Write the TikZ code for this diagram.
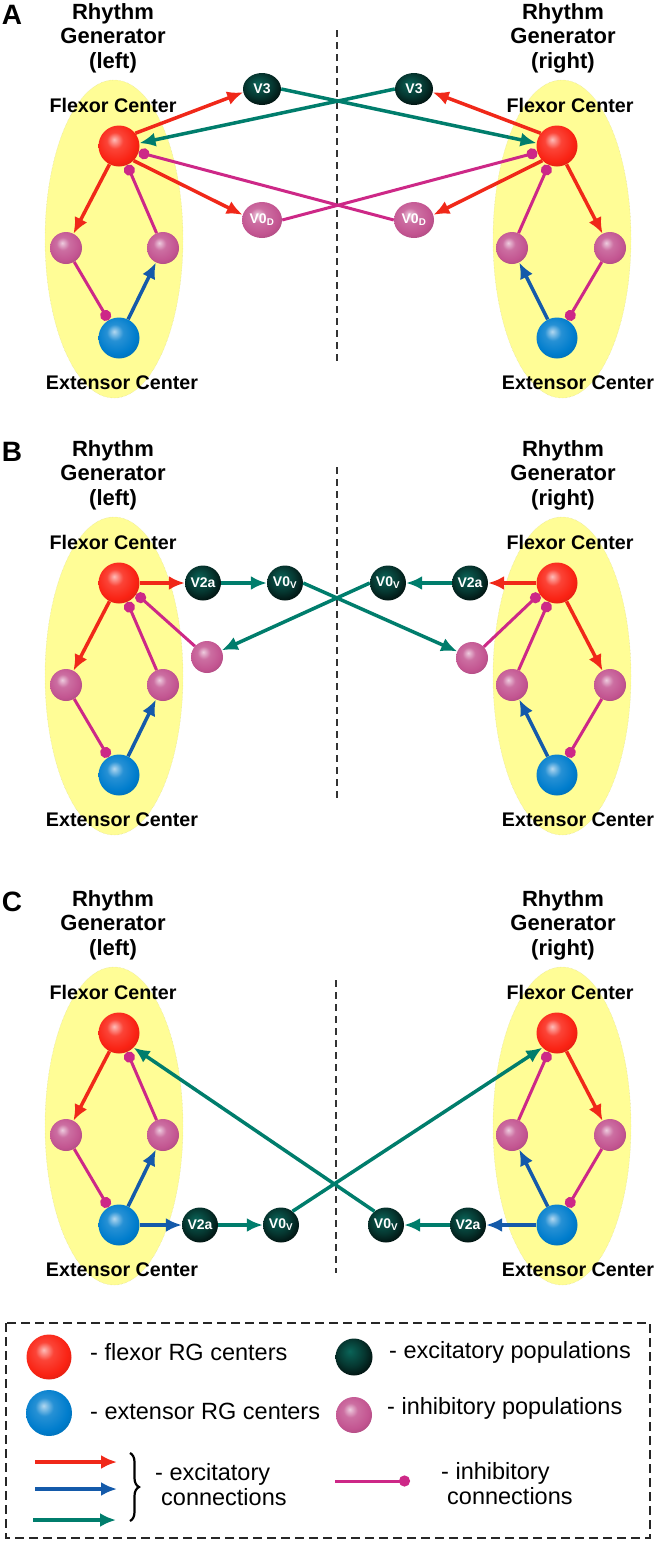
\documentclass[tikz,border=0pt]{standalone}
\usepackage{fontspec}
\setmainfont{Liberation Sans}
\usetikzlibrary{arrows.meta,shapes.geometric,decorations.pathreplacing}

\definecolor{rgyellow}{RGB}{255,253,150}
\definecolor{flexred}{RGB}{250,35,20}
\definecolor{extblue}{RGB}{0,125,205}
\definecolor{inhpink}{RGB}{195,85,145}
\definecolor{excgreen}{RGB}{10,100,88}
\definecolor{conred}{RGB}{240,40,25}
\definecolor{congreen}{RGB}{0,125,108}
\definecolor{conblue}{RGB}{20,90,170}
\definecolor{conpink}{RGB}{205,40,135}
\colorlet{spherecol}{red}
\pgfdeclareradialshading[spherecol]{sphere}{\pgfpoint{-6bp}{8bp}}{%
  color(0bp)=(spherecol!30!white); color(10bp)=(spherecol!85!white);
  color(24bp)=(spherecol); color(38bp)=(spherecol!80!black);
  color(60bp)=(spherecol!50!black)}
\pgfdeclareradialshading[spherecol]{darksphere}{\pgfpoint{-6bp}{8bp}}{%
  color(0bp)=(spherecol); color(18bp)=(spherecol!55!black);
  color(36bp)=(black); color(60bp)=(black)}

\begin{document}
\begin{tikzpicture}[
  x=1pt, y=-1pt,
  every node/.style={font=\fontsize{19.7}{22}\selectfont\bfseries, text=black},
  head/.style={align=center, font=\fontsize{22}{24.5}\selectfont\bfseries},
  legtxt/.style={anchor=west, align=left, inner sep=0pt, font=\fontsize{23.5}{25}\selectfont},
  ptext/.style={text=white, font=\fontsize{14}{14}\selectfont\bfseries},
  rg/.style={ellipse, fill=rgyellow, draw=rgyellow!70!gray, densely dotted,
    minimum width=138pt, minimum height=318pt, inner sep=0pt},
  ball/.style={circle, inner sep=0pt, shade, shading=sphere,
    /utils/exec={\colorlet{spherecol}{#1}}},
  flex/.style={ball=flexred, minimum size=41pt},
  extn/.style={ball=extblue, minimum size=41pt},
  inh/.style={ball=inhpink, minimum size=32pt},
  exc/.style={ellipse, inner sep=0pt, shade, shading=darksphere,
    /utils/exec={\colorlet{spherecol}{excgreen}},
    minimum width=36pt, minimum height=35pt, ptext},
  exr/.style={draw=conred, line width=3.5pt, -{Latex[length=16pt,width=14pt]}},
  exg/.style={draw=congreen, line width=3.5pt, -{Latex[length=16pt,width=14pt]}},
  exb/.style={draw=conblue, line width=3.5pt, -{Latex[length=16pt,width=14pt]}},
  inl/.style={draw=conpink, line width=3pt, -{Circle[length=11pt]}},
  curly/.style={draw=black, line width=2.2pt, decorate,
    decoration={brace, amplitude=9pt, aspect=0.5}},
  midline/.style={draw=black!80, line width=1.3pt, dash pattern=on 7pt off 5pt},
  legbox/.style={draw=black!85, line width=2.5pt, dash pattern=on 9pt off 5pt}
  ]
\useasboundingbox (0,0) rectangle (656,1542);

% the two rhythm generators of each panel
\foreach \p/\dy in {A/0,B/437,C/887}{
  \node[font=\fontsize{28}{28}\selectfont\bfseries] (lab\p) at (12,15+\dy) {\p};
  % left
  \node[rg] (rg\p L) at (114,239+\dy) {};
  \node[head] (hd\p L) at (113,38+\dy) {Rhythm\\Generator\\(left)};
  \node (fc\p L) at (113,105+\dy) {Flexor Center};
  \node (ec\p L) at (122,383+\dy) {Extensor Center};
  \node[flex] (fl\p L) at (119,146+\dy) {};
  \node[inh]  (il\p L) at (66,248+\dy) {};
  \node[inh]  (ir\p L) at (163,248+\dy) {};
  \node[extn] (ex\p L) at (119,338+\dy) {};
  \draw[exr] (fl\p L) -- (il\p L);
  \draw[inl] (ir\p L) -- (fl\p L);
  \draw[inl] (il\p L) -- (ex\p L);
  \draw[exb] (ex\p L) -- (ir\p L);
  % right
  \node[rg] (rg\p R) at (562,239+\dy) {};
  \node[head] (hd\p R) at (563,38+\dy) {Rhythm\\Generator\\(right)};
  \node (fc\p R) at (570,105+\dy) {Flexor Center};
  \node (ec\p R) at (578,383+\dy) {Extensor Center};
  \node[flex] (fl\p R) at (557,146+\dy) {};
  \node[inh]  (il\p R) at (512,248+\dy) {};
  \node[inh]  (ir\p R) at (610,248+\dy) {};
  \node[extn] (ex\p R) at (557,338+\dy) {};
  \draw[exr] (fl\p R) -- (ir\p R);
  \draw[inl] (il\p R) -- (fl\p R);
  \draw[inl] (ir\p R) -- (ex\p R);
  \draw[exb] (ex\p R) -- (il\p R);
}

\draw[midline] (337,30) -- (337,363);
\draw[midline] (337,467) -- (337,800);
\draw[midline] (336,980) -- (336,1273);

% A
\node[exc, minimum width=38pt, minimum height=32pt] (v3L) at (262,89) {V3};
\node[exc, minimum width=38pt, minimum height=32pt] (v3R) at (414,89) {V3};
\node[inh, ellipse, minimum width=40pt, minimum height=36pt, ptext] (v0dL) at (262,220) {V0\textsubscript{D}};
\node[inh, ellipse, minimum width=40pt, minimum height=36pt, ptext] (v0dR) at (414,220) {V0\textsubscript{D}};
\draw[exr] (flAL.38) -- (v3L.190);
\draw[exr] (flAR.142) -- (v3R.-10);
\draw[exg] (v3L.east) -- (flAR.172);
\draw[exg] (v3R.west) -- (flAL.8);
\draw[exr] (flAL.-45) -- (v0dL.165);
\draw[exr] (flAR.225) -- (v0dR.15);
\draw[inl] (v0dL.east) -- (flAR.198);
\draw[inl] (v0dR.west) -- (flAL.-18);

% B
\node[exc] (v2aBL) at (203,583) {V2a};
\node[exc] (v0vBL) at (285,583) {V0\textsubscript{V}};
\node[exc] (v0vBR) at (388,583) {V0\textsubscript{V}};
\node[exc] (v2aBR) at (470,583) {V2a};
\node[inh] (ioBL) at (207,657) {};
\node[inh] (ioBR) at (472,658) {};
\draw[exr] (flBL) -- (v2aBL);
\draw[exg] (v2aBL) -- (v0vBL);
\draw[exr] (flBR) -- (v2aBR);
\draw[exg] (v2aBR) -- (v0vBR);
\draw[exg] (v0vBL.east) -- (ioBR);
\draw[exg] (v0vBR.west) -- (ioBL);
\draw[inl] (ioBL) -- (flBL.-32);
\draw[inl] (ioBR) -- (flBR.212);

% C
\node[exc] (v2aCL) at (200,1225) {V2a};
\node[exc] (v0vCL) at (281,1225) {V0\textsubscript{V}};
\node[exc] (v0vCR) at (386,1225) {V0\textsubscript{V}};
\node[exc] (v2aCR) at (468,1225) {V2a};
\draw[exb] (exCL) -- (v2aCL);
\draw[exg] (v2aCL) -- (v0vCL);
\draw[exb] (exCR) -- (v2aCR);
\draw[exg] (v2aCR) -- (v0vCR);
\draw[exg] (v0vCL.50) -- (flCR.225);
\draw[exg] (v0vCR.130) -- (flCL.-45);

% legend
\draw[legbox] (6,1323) rectangle (650,1538);
\node[flex, minimum size=45pt] (kfl) at (49,1357) {};
\node[extn, minimum size=46pt] (kex) at (49,1413) {};
\node[exc, minimum width=37pt, minimum height=37pt] (kexc) at (354,1357) {};
\node[inh, minimum size=36pt] (kinh) at (354,1415) {};
\node[legtxt] (tfl) at (90,1352) {- flexor RG centers};
\node[legtxt] (tex) at (90,1411) {- extensor RG centers};
\node[legtxt] (texc) at (389,1352) {- excitatory populations};
\node[legtxt] (tinh) at (387,1408) {- inhibitory populations};
\coordinate (kr0) at (35,1462); \coordinate (kr1) at (117,1462);
\coordinate (kb0) at (35,1489); \coordinate (kb1) at (117,1489);
\coordinate (kg0) at (33,1520); \coordinate (kg1) at (116,1520);
\draw[exr] (kr0) -- (kr1);
\draw[exb] (kb0) -- (kb1);
\draw[exg] (kg0) -- (kg1);
\coordinate (kbr0) at (130,1453); \coordinate (kbr1) at (130,1521);
\draw[curly] (kbr0) -- (kbr1);
\node[legtxt] (tcex) at (155,1485) {- excitatory\\\hspace{6pt}connections};
\coordinate (ki0) at (335,1481); \coordinate (ki1) at (410,1481);
\draw[inl] (ki0) -- (ki1);
\node[legtxt] (tcin) at (441,1484) {- inhibitory\\\hspace{6pt}connections};

\end{tikzpicture}
\end{document}
